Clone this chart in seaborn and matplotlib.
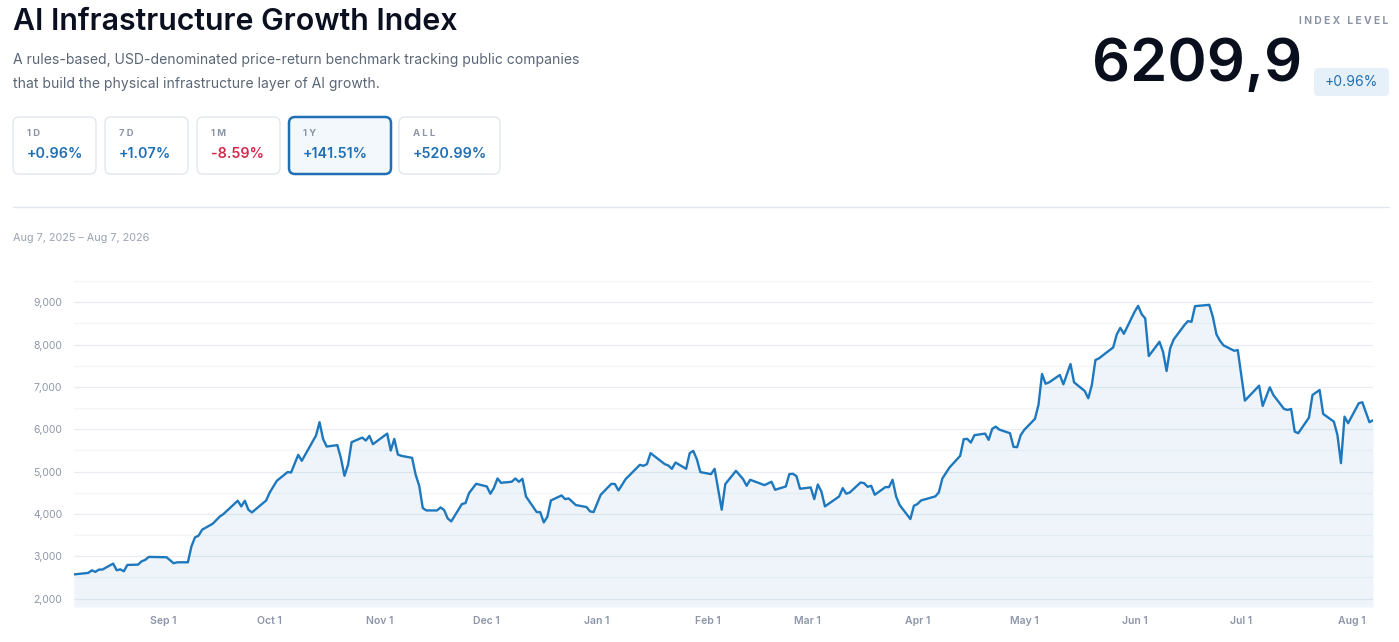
import matplotlib
matplotlib.use("Agg")
import matplotlib.pyplot as plt
import matplotlib.dates as mdates
from matplotlib.patches import FancyBboxPatch
from matplotlib.ticker import FuncFormatter
import seaborn as sns
import pandas as pd

# index level readings
dates = [
    "2025-08-07", "2025-08-11", "2025-08-12", "2025-08-13", "2025-08-14", "2025-08-15", "2025-08-18",
    "2025-08-19", "2025-08-20", "2025-08-21", "2025-08-22", "2025-08-25", "2025-08-26", "2025-08-27",
    "2025-08-28",
    "2025-09-02", "2025-09-04", "2025-09-05", "2025-09-08", "2025-09-09", "2025-09-10", "2025-09-11",
    "2025-09-12", "2025-09-15", "2025-09-17", "2025-09-18", "2025-09-22", "2025-09-23", "2025-09-24",
    "2025-09-25", "2025-09-26", "2025-09-30",
    "2025-10-01", "2025-10-03", "2025-10-06", "2025-10-07", "2025-10-09", "2025-10-10", "2025-10-14",
    "2025-10-15", "2025-10-16", "2025-10-17", "2025-10-20", "2025-10-21", "2025-10-22", "2025-10-23",
    "2025-10-24", "2025-10-27", "2025-10-28", "2025-10-29", "2025-10-30",
    "2025-11-03", "2025-11-04", "2025-11-05", "2025-11-06", "2025-11-07", "2025-11-10", "2025-11-11",
    "2025-11-12", "2025-11-13", "2025-11-14", "2025-11-17", "2025-11-18", "2025-11-19", "2025-11-20",
    "2025-11-21", "2025-11-24", "2025-11-25", "2025-11-26", "2025-11-28",
    "2025-12-01", "2025-12-02", "2025-12-03", "2025-12-04", "2025-12-05", "2025-12-08", "2025-12-09",
    "2025-12-10", "2025-12-11", "2025-12-12", "2025-12-15", "2025-12-16", "2025-12-17", "2025-12-18",
    "2025-12-19", "2025-12-22", "2025-12-23", "2025-12-24", "2025-12-26", "2025-12-29", "2025-12-30",
    "2025-12-31",
    "2026-01-02", "2026-01-05", "2026-01-06", "2026-01-07", "2026-01-09", "2026-01-13", "2026-01-14",
    "2026-01-15", "2026-01-16", "2026-01-20", "2026-01-21", "2026-01-22", "2026-01-23", "2026-01-26",
    "2026-01-27", "2026-01-28", "2026-01-29", "2026-01-30",
    "2026-02-02", "2026-02-03", "2026-02-05", "2026-02-06", "2026-02-09", "2026-02-11", "2026-02-12",
    "2026-02-13", "2026-02-17", "2026-02-19", "2026-02-20", "2026-02-23", "2026-02-24", "2026-02-25",
    "2026-02-26", "2026-02-27",
    "2026-03-02", "2026-03-03", "2026-03-04", "2026-03-05", "2026-03-06", "2026-03-10", "2026-03-11",
    "2026-03-12", "2026-03-13", "2026-03-16", "2026-03-17", "2026-03-18", "2026-03-19", "2026-03-20",
    "2026-03-23", "2026-03-24", "2026-03-25", "2026-03-26", "2026-03-27", "2026-03-30", "2026-03-31",
    "2026-04-01", "2026-04-02", "2026-04-06", "2026-04-07", "2026-04-08", "2026-04-10", "2026-04-13",
    "2026-04-14", "2026-04-15", "2026-04-16", "2026-04-17", "2026-04-20", "2026-04-21", "2026-04-22",
    "2026-04-23", "2026-04-24", "2026-04-27", "2026-04-28", "2026-04-29", "2026-04-30",
    "2026-05-01", "2026-05-04", "2026-05-05", "2026-05-06", "2026-05-07", "2026-05-08", "2026-05-11",
    "2026-05-12", "2026-05-14", "2026-05-15", "2026-05-18", "2026-05-19", "2026-05-20", "2026-05-21",
    "2026-05-22", "2026-05-26", "2026-05-27", "2026-05-28", "2026-05-29",
    "2026-06-01", "2026-06-02", "2026-06-03", "2026-06-04", "2026-06-05", "2026-06-08", "2026-06-09",
    "2026-06-10", "2026-06-11", "2026-06-12", "2026-06-15", "2026-06-16", "2026-06-17", "2026-06-18",
    "2026-06-22", "2026-06-23", "2026-06-24", "2026-06-25", "2026-06-26", "2026-06-29", "2026-06-30",
    "2026-07-02", "2026-07-06", "2026-07-07", "2026-07-09", "2026-07-10", "2026-07-13", "2026-07-14",
    "2026-07-15", "2026-07-16", "2026-07-17", "2026-07-20", "2026-07-21", "2026-07-23", "2026-07-24",
    "2026-07-27", "2026-07-28", "2026-07-29", "2026-07-30", "2026-07-31",
    "2026-08-03", "2026-08-04", "2026-08-06", "2026-08-07",
]
levels = [
    2570, 2605, 2665, 2630, 2683, 2685, 2825, 2667, 2690, 2644, 2794, 2801, 2880, 2912, 2983,
    2975, 2833, 2856, 2856, 3233, 3445, 3485, 3626, 3768, 3940, 3996, 4310, 4176, 4310, 4098, 4034, 4317,
    4506, 4781, 4986, 4977, 5394, 5253, 5850, 6165, 5764, 5590, 5623, 5316, 4899, 5158, 5693, 5802,
    5731, 5842, 5646,
    5896, 5495, 5771, 5401, 5370, 5323, 4923, 4663, 4138, 4081, 4081, 4152, 4090, 3893, 3822, 4232,
    4255, 4491, 4710,
    4647, 4475, 4616, 4836, 4734, 4758, 4836, 4758, 4828, 4411, 4043, 4040, 3798, 3930, 4317, 4435,
    4349, 4364, 4208, 4161, 4058, 4043,
    4451, 4710, 4703, 4553, 4821, 5158, 5135, 5175, 5434, 5175, 5142, 5064, 5213, 5064, 5434, 5488,
    5292, 4986,
    4939, 5064, 4098, 4703, 5017, 4821, 4663, 4805, 4679, 4758, 4569, 4647, 4939, 4946, 4892, 4593,
    4624, 4349, 4694, 4530, 4176, 4412, 4608, 4475, 4506, 4741, 4726, 4640, 4663, 4451, 4632, 4632,
    4805, 4412, 4208, 3878, 4192,
    4232, 4317, 4412, 4506, 4836, 5095, 5370, 5764, 5771, 5684, 5858, 5896, 5748, 6007, 6061, 5990,
    5905, 5582, 5575, 5858,
    5983, 6243, 6572, 7303, 7074, 7107, 7280, 7060, 7539, 7107, 6902, 6730, 7044, 7633, 7673, 7932,
    8239, 8394, 8253,
    8771, 8913, 8717, 8616, 7727, 8064, 7829, 7374, 7909, 8120, 8458, 8552, 8536, 8906, 8937, 8654,
    8243, 8088, 7980, 7852, 7869,
    6674, 7027, 6549, 6989, 6808, 6478, 6455, 6478, 5943, 5905, 6273, 6808, 6926, 6360, 6179, 5865,
    5198, 6297, 6141,
    6612, 6636, 6165, 6210,
]

periods = ["1D", "7D", "1M", "1Y", "ALL"]
period_returns = ["+0.96%", "+1.07%", "-8.59%", "+141.51%", "+520.99%"]
selected_period = "1Y"
index_level = "6209,9"
day_change = "+0.96%"

df = pd.DataFrame({"date": pd.to_datetime(dates), "level": levels})

W, H = 1399, 642
BLUE = "#1e78be"
sns.set_theme(style="white")
plt.rcParams["font.family"] = ["Inter", "DejaVu Sans"]

fig = plt.figure(figsize=(W / 100, H / 100), dpi=100)

# overlay in pixel units for the header / cards
bg = fig.add_axes([0, 0, 1, 1])
bg.set_xlim(0, W)
bg.set_ylim(H, 0)
bg.axis("off")

bg.text(13, 22, "AI Infrastructure Growth Index", fontsize=21.8, fontweight="semibold",
        color="#0b1020", va="center", ha="left")
bg.text(13, 60, "A rules-based, USD-denominated price-return benchmark tracking public companies",
        fontsize=10.05, color="#5b6675", va="center")
bg.text(13, 84, "that build the physical infrastructure layer of AI growth.",
        fontsize=10.05, color="#5b6675", va="center")

card_x = [13, 105, 197, 289, 399]
card_w = [83, 83, 83, 102, 101]
for x, w, name, ret in zip(card_x, card_w, periods, period_returns):
    sel = name == selected_period
    box = FancyBboxPatch((x, 117), w, 57, boxstyle="round,pad=0,rounding_size=6",
                         facecolor="#f3f8fd" if sel else "white",
                         edgecolor="#1e6fb4" if sel else "#dfe4ec",
                         linewidth=1.8 if sel else 0.9)
    bg.add_patch(box)
    bg.text(x + 14, 134, " ".join(name), fontsize=6.8, fontweight="bold",
            color="#8b95a5", va="center")
    bg.text(x + 14, 154, ret, fontsize=10.3, fontweight="semibold",
            color="#d42a4c" if ret.startswith("-") else "#1f6fb2", va="center")

bg.plot([13, 1389], [207, 207], color="#e2e6ed", lw=1)
bg.text(13, 238, "Aug 7, 2025 – Aug 7, 2026", fontsize=7.8, color="#9aa3b2", va="center")

bg.text(1388, 21, "I N D E X   L E V E L", fontsize=7.4, fontweight="bold",
        color="#8b95a5", va="center", ha="right")
bg.text(1302, 66, index_level, fontsize=43, fontweight="semibold", color="#0a0f1e",
        va="center", ha="right")
badge = FancyBboxPatch((1314, 68), 75, 28, boxstyle="round,pad=0,rounding_size=4",
                       facecolor="#e6f0f9", edgecolor="none")
bg.add_patch(badge)
bg.text(1351.5, 82, day_change, fontsize=10, color="#1f6fb2", va="center", ha="center")

# chart
ax = fig.add_axes([74 / W, 1 - 607 / H, (1373 - 74) / W, (607 - 281) / H])
ax.patch.set_alpha(0)
sns.lineplot(data=df, x="date", y="level", ax=ax, color=BLUE, linewidth=1.7)
ax.fill_between(df["date"], df["level"], 1800, color=BLUE, alpha=0.075, linewidth=0)

ax.set_xlim(df["date"].iloc[0], df["date"].iloc[-1])
ax.set_ylim(1800, 9500)
ax.set_yticks(range(2000, 9001, 1000))
ax.set_yticks(range(2500, 9501, 1000), minor=True)
ax.yaxis.set_major_formatter(FuncFormatter(lambda v, p: f"{int(v):,}"))
ax.xaxis.set_major_locator(mdates.MonthLocator(bymonthday=1))
ax.xaxis.set_major_formatter(FuncFormatter(lambda v, p: f"{mdates.num2date(v):%b} {mdates.num2date(v).day}"))

ax.grid(True, axis="y", which="major", color="#e9edf3", linewidth=0.9)
ax.grid(True, axis="y", which="minor", color="#f3f5f8", linewidth=0.9)
ax.grid(False, axis="x")
ax.set_axisbelow(True)
for s in ax.spines.values():
    s.set_visible(False)
ax.tick_params(axis="y", which="both", length=0, pad=8.5, labelsize=7.5, labelcolor="#8c96a8")
ax.tick_params(axis="x", length=0, pad=6.5, labelsize=7.5, labelcolor="#8c96a8")
for lab in ax.get_xticklabels():
    lab.set_fontweight("semibold")
ax.set_xlabel("")
ax.set_ylabel("")

fig.savefig("out.png", dpi=100)
